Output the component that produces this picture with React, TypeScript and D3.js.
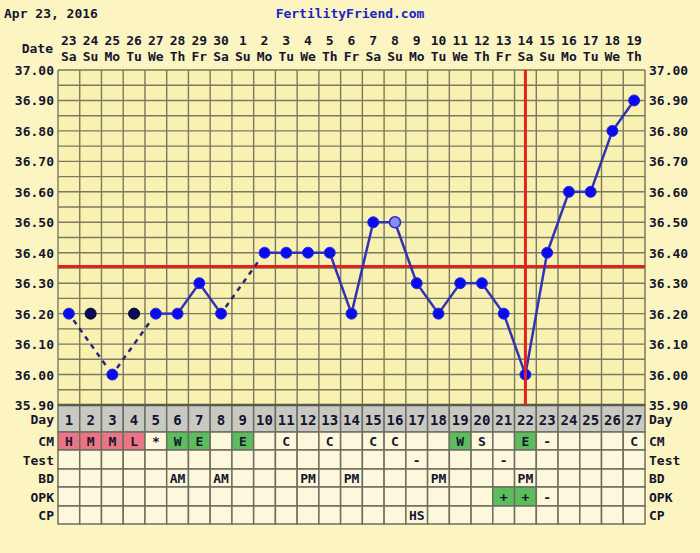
import { useRef, useEffect } from "react";
import * as d3 from "d3";

const FONT = "'DejaVu Sans Mono', monospace";
const INK = "#15152e";
const GRID = "#7a7a5e";

const cycleDays = [1, 2, 3, 4, 5, 6, 7, 8, 9, 10, 11, 12, 13, 14, 15, 16, 17, 18, 19, 20, 21, 22, 23, 24, 25, 26, 27];
const dates = ["23", "24", "25", "26", "27", "28", "29", "30", "1", "2", "3", "4", "5", "6", "7", "8", "9", "10", "11", "12", "13", "14", "15", "16", "17", "18", "19"];
const weekdays = ["Sa", "Su", "Mo", "Tu", "We", "Th", "Fr", "Sa", "Su", "Mo", "Tu", "We", "Th", "Fr", "Sa", "Su", "Mo", "Tu", "We", "Th", "Fr", "Sa", "Su", "Mo", "Tu", "We", "Th"];
const temps: (number | null)[] = [36.2, 36.2, 36.0, 36.2, 36.2, 36.2, 36.3, 36.2, null, 36.4, 36.4, 36.4, 36.4, 36.2, 36.5, 36.5, 36.3, 36.2, 36.3, 36.3, 36.2, 36.0, 36.4, 36.6, 36.6, 36.8, 36.9];
const discardedDays = [2, 4];
const openDays = [16];
const tempTicks = [37.0, 36.9, 36.8, 36.7, 36.6, 36.5, 36.4, 36.3, 36.2, 36.1, 36.0, 35.9];
const coverline = 36.355;
const ovulationDay = 22;

const cm = ["H", "M", "M", "L", "*", "W", "E", "", "E", "", "C", "", "C", "", "C", "C", "", "", "W", "S", "", "E", "-", "", "", "", "C"];
const cmShade = ["p", "p", "p", "p", "", "g", "g", "", "g", "", "", "", "", "", "", "", "", "", "g", "", "", "g", "", "", "", "", ""];
const test = ["", "", "", "", "", "", "", "", "", "", "", "", "", "", "", "", "-", "", "", "", "-", "", "", "", "", "", ""];
const bd = ["", "", "", "", "", "AM", "", "AM", "", "", "", "PM", "", "PM", "", "", "", "PM", "", "", "", "PM", "", "", "", "", ""];
const opk = ["", "", "", "", "", "", "", "", "", "", "", "", "", "", "", "", "", "", "", "", "+", "+", "-", "", "", "", ""];
const opkShade = ["", "", "", "", "", "", "", "", "", "", "", "", "", "", "", "", "", "", "", "", "g", "g", "", "", "", "", ""];
const cp = ["", "", "", "", "", "", "", "", "", "", "", "", "", "", "", "", "HS", "", "", "", "", "", "", "", "", "", ""];

const SHADES: Record<string, string> = { p: "#ec7585", g: "#5cbd5c", "": "#fdf7dc" };

export default function App() {
  const svgRef = useRef<SVGSVGElement>(null);

  useEffect(() => {
    document.body.style.margin = "0";
    const svg = svgRef.current;
    if (!svg) return;
    const root = d3.select(svg);
    root.selectAll("*").remove();

    const left = 58, right = 645, top = 70, bottom = 405;
    const x = d3.scaleBand<number>().domain(cycleDays).range([left, right]);
    const y = d3.scaleLinear().domain([35.9, 37.0]).range([bottom, top]);
    const bw = x.bandwidth();
    const cx = (d: number) => (x(d) ?? 0) + bw / 2;

    root.append("rect").attr("width", 700).attr("height", 553).attr("fill", "#fcf5c2");
    root.append("rect").attr("x", left).attr("y", top).attr("width", right - left).attr("height", bottom - top).attr("fill", "#f9f1b2");

    const txt = (tx: number, ty: number, s: string, anchor = "middle", color = INK, size = 13) =>
      root.append("text")
        .attr("x", tx).attr("y", ty)
        .attr("text-anchor", anchor)
        .attr("fill", color)
        .attr("font-family", FONT)
        .attr("font-weight", "bold")
        .attr("font-size", size)
        .text(s);

    // header
    txt(4, 18, "Apr 23, 2016", "start");
    txt(350, 18, "FertilityFriend.com", "middle", "#1a22c8");
    txt(53, 53, "Date", "end");
    cycleDays.forEach((d, i) => {
      txt(cx(d), 45, dates[i]);
      txt(cx(d), 61, weekdays[i]);
    });

    // temperature grid
    const halfSteps = d3.range(0, 23).map((k) => 35.9 + k * 0.05);
    for (const t of halfSteps) {
      root.append("line")
        .attr("x1", left).attr("x2", right)
        .attr("y1", y(t)).attr("y2", y(t))
        .attr("stroke", GRID).attr("stroke-width", 1.4);
    }
    for (const d of cycleDays) {
      root.append("line")
        .attr("x1", x(d)!).attr("x2", x(d)!)
        .attr("y1", top).attr("y2", bottom)
        .attr("stroke", GRID).attr("stroke-width", 1.4);
    }
    root.append("line").attr("x1", right).attr("x2", right).attr("y1", top).attr("y2", bottom)
      .attr("stroke", GRID).attr("stroke-width", 1.5);

    for (const t of tempTicks) {
      txt(54, y(t) + 5, t.toFixed(2), "end");
      txt(649, y(t) + 5, t.toFixed(2), "start");
    }

    // table
    const rowTops = [405, 432, 450, 469, 487, 506, 524];
    const rowNames = ["Day", "CM", "Test", "BD", "OPK", "CP"];
    const rowText = [cycleDays.map(String), cm, test, bd, opk, cp];
    const rowShade = [null, cmShade, null, null, opkShade, null];
    rowNames.forEach((name, r) => {
      const y0 = rowTops[r], y1 = rowTops[r + 1];
      const mid = (y0 + y1) / 2 + 5;
      cycleDays.forEach((d, i) => {
        const shade = r === 0 ? "#c9c9c4" : SHADES[rowShade[r]?.[i] ?? ""];
        root.append("rect")
          .attr("x", x(d)!).attr("y", y0)
          .attr("width", bw).attr("height", y1 - y0)
          .attr("fill", shade)
          .attr("stroke", "#6e6e60").attr("stroke-width", 1.5);
        if (rowText[r][i]) txt(cx(d), mid + (r === 0 ? 1 : 0), rowText[r][i], "middle", INK, r === 0 ? 14 : 13);
      });
      txt(54, mid, name, "end");
      txt(649, mid, name, "start");
    });
    root.append("line").attr("x1", left).attr("x2", right).attr("y1", bottom).attr("y2", bottom)
      .attr("stroke", "#5a5a4c").attr("stroke-width", 2.5);

    // coverline
    root.append("line")
      .attr("x1", left).attr("x2", right)
      .attr("y1", y(coverline)).attr("y2", y(coverline))
      .attr("stroke", "#e2231d").attr("stroke-width", 3);

    // temperature line
    const pts = cycleDays
      .map((d, i) => ({ d, t: temps[i] }))
      .filter((p) => p.t !== null && !discardedDays.includes(p.d)) as { d: number; t: number }[];
    for (let i = 1; i < pts.length; i++) {
      const a = pts[i - 1], b = pts[i];
      let x1 = cx(a.d), y1 = y(a.t), x2 = cx(b.d), y2 = y(b.t);
      const dashed = b.d - a.d > 1;
      if (dashed) {
        const len = Math.hypot(x2 - x1, y2 - y1);
        const ux = (x2 - x1) / len, uy = (y2 - y1) / len;
        x1 += ux * 8; y1 += uy * 8; x2 -= ux * 8; y2 -= uy * 8;
      }
      root.append("line")
        .attr("x1", x1).attr("y1", y1).attr("x2", x2).attr("y2", y2)
        .attr("stroke", dashed ? "#28287a" : "#3232b4")
        .attr("stroke-width", 2.5)
        .attr("stroke-dasharray", dashed ? "5,5" : null);
    }

    cycleDays.forEach((d, i) => {
      const t = temps[i];
      if (t === null) return;
      const discarded = discardedDays.includes(d);
      const open = openDays.includes(d);
      root.append("circle")
        .attr("cx", cx(d)).attr("cy", y(t)).attr("r", 5.5)
        .attr("fill", discarded ? "#0a0a55" : open ? "#8c8cf0" : "#0a0af2")
        .attr("stroke", discarded ? "#000022" : open ? "#2a2ad0" : "#2a2ad8")
        .attr("stroke-width", open ? 1.5 : 1);
    });

    // ovulation line
    root.append("line")
      .attr("x1", cx(ovulationDay)).attr("x2", cx(ovulationDay))
      .attr("y1", top).attr("y2", bottom)
      .attr("stroke", "#e2231d").attr("stroke-width", 3);
  }, []);

  return <svg ref={svgRef} width={700} height={553} style={{ display: "block" }} />;
}
